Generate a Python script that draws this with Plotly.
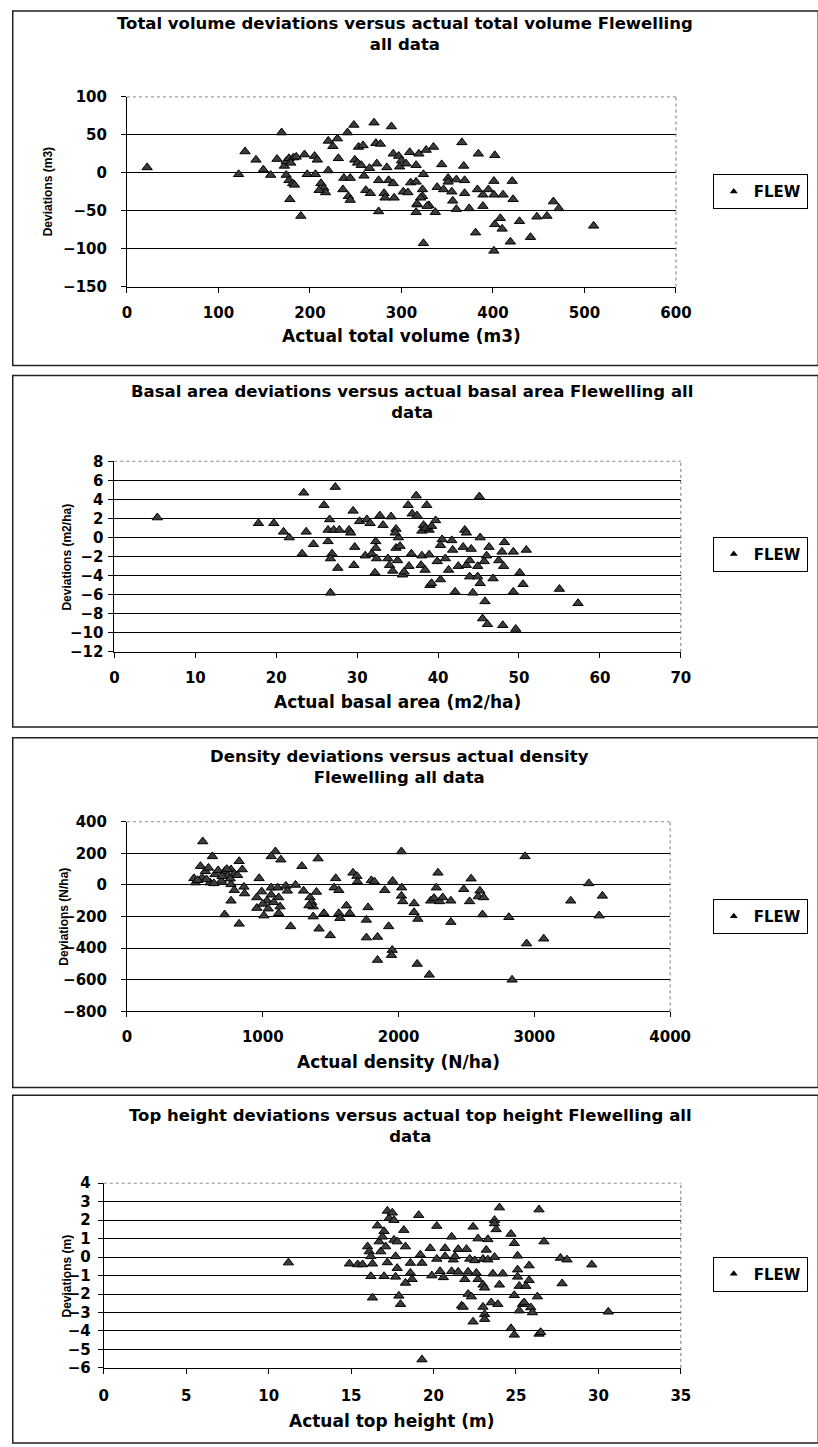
import plotly.graph_objects as go

W, H = 818, 1447

# ---------------- data ----------------
vol_x = [22,122,129,141,149,157,169,164,172,174,177,182,185,179,174,177,181,183,178,190,194,197,205,208,206,212,215,217,210,
         220,225,230,231,220,241,248,270,289,237,236,244,242,244,249,252,256,253,258,259,261,266,265,273,272,277,275,275,281,
         282,284,286,291,292,291,297,298,300,302,305,309,307,310,316,319,316,317,316,324,323,323,324,327,330,
         335,366,384,402,344,368,351,351,360,369,401,421,339,346,355,369,383,395,389,401,411,422,321,317,328,337,356,360,374,
         389,466,472,448,459,408,402,410,429,381,419,441,510,401]
vol_y = [7,-2,28,17,4,-3,53,18,9,15,19,20,21,13,-3,-10,-14,-16,-35,-57,24,-2,22,17,-2,-14,-20,-26,-23,
         42,35,45,19,3,53,63,66,61,-7,-22,-7,-31,-36,17,13,10,34,36,-4,-23,-27,6,12,39,38,-10,-51,-27,
         -33,7,-10,-14,-33,25,22,8,16,-25,12,27,-26,-13,-12,25,10,-42,-52,-2,-22,-31,-93,30,-43,
         34,40,25,23,11,9,-7,-12,-9,-10,-11,-11,-19,-22,-25,-27,-22,-22,-29,-29,-29,-35,-33,-41,-44,-52,-37,-48,-47,
         -44,-38,-47,-58,-57,-60,-68,-74,-64,-79,-91,-85,-70,-103]

ba_x = [5.3,17.8,19.7,20.9,21.6,23.4,23.7,23.2,24.6,25.9,27.3,26.6,26.4,27.1,27.8,26.4,26.9,26.7,27.6,26.7,29.0,29.2,29.5,
        29.7,29.6,30.3,31.2,31.6,31.0,31.8,32.3,32.3,32.4,32.2,32.8,33.2,34.2,34.8,35.1,34.8,33.8,34.0,34.4,35.0,35.6,35.8,
        36.4,36.3,36.8,37.3,37.4,38.6,38.2,38.0,36.7,38.0,37.9,38.4,39.0,
        45.1,39.7,38.9,43.3,43.5,45.2,40.5,40.3,41.7,41.8,43.1,44.1,46.3,48.2,47.9,49.3,50.9,38.9,39.9,40.9,41.3,42.5,43.5,
        43.9,44.9,45.7,46.0,47.5,48.1,43.9,44.9,45.2,46.8,50.1,50.5,40.3,39.2,42.1,44.3,49.3,55.0,57.3,45.8,45.5,46.1,48.0,
        49.6,38.5,39.2,35.3,34.7]
ba_y = [2.1,1.5,1.5,0.6,0.0,4.7,0.6,-1.7,-0.7,3.4,5.3,1.9,0.8,0.8,0.8,-0.4,-1.7,-2.2,-3.2,-5.8,0.8,0.5,2.8,
        -1.0,-2.9,1.7,1.9,1.5,-1.9,-1.7,-0.4,-1.1,-2.2,-3.7,2.3,1.3,2.2,0.9,0.0,-1.1,-2.2,-2.9,-3.5,-2.4,-3.9,-3.6,
        -3.0,3.4,2.5,4.4,2.3,3.4,1.3,0.7,-1.7,-1.9,-2.9,-3.4,-5.0,
        4.3,1.8,0.8,0.8,0.5,0.0,-0.2,-0.8,-0.3,-1.3,-1.0,-1.2,-1.0,-0.5,-1.5,-1.5,-1.3,-1.8,-2.5,-2.2,-3.4,-3.0,-2.9,
        -2.4,-3.0,-2.5,-1.9,-2.4,-3.0,-4.1,-4.1,-4.8,-4.3,-3.7,-4.9,-4.4,-4.8,-5.7,-5.8,-5.7,-5.4,-6.9,-6.7,-8.5,-9.1,-9.2,
        -9.6,1.0,1.2,-0.9,0.5]

den_x = [558,493,505,541,553,577,600,612,629,648,671,695,719,743,766,790,814,826,849,766,790,766,719,826,861,866,973,956,
         956,992,1008,1031,1062,1062,1093,1062,1133,1110,1117,1127,1117,1170,1181,1205,1241,1288,1300,1348,1360,1371,1407,
         1395,1371,1414,1450,1497,1537,1525,1560,1560,1568,1616,1640,1664,1693,1697,1775,1763,1763,1799,1822,1845,1845,1898,
         1927,1956,1953,1948,2021,2023,2021,2031,2114,2114,2142,2137,2226,2237,
         2931,2290,2534,2278,2480,2599,2587,2627,2261,2302,2325,2385,2523,2385,2618,2812,3268,3401,3501,3477,2943,3069,2836,
         520,585,640,700,735,760,1000,1040,1080,1340]
den_y = [275,42,15,119,46,87,108,15,181,67,92,25,87,62,98,71,62,150,98,4,-33,-100,-187,-246,-12,-54,42,-79,
         -146,-42,-194,-100,-62,-17,212,181,160,-17,-79,-137,-179,-6,-37,-262,0,119,-37,-79,-110,-137,167,
         -44,-200,-277,-179,-319,42,-17,-33,-179,-210,-131,-179,77,56,21,-142,-221,-333,29,21,-329,-475,-33,
         -262,25,-412,-444,212,-17,-69,-104,-117,-173,-215,-500,-569,-100,
         181,77,40,-17,-27,-37,-73,-79,-83,-104,-79,-100,-104,-235,-187,-204,-100,10,-69,-194,-371,-340,-600,
         30,35,10,55,100,40,-120,-150,-110,-130]

th_x = [11.2,14.9,15.4,15.7,16.0,16.1,16.2,16.3,16.2,16.3,16.6,16.7,16.8,17.0,17.2,17.3,17.5,17.6,17.0,16.9,17.1,17.2,
        17.6,17.8,17.7,17.8,17.7,17.9,18.0,18.2,18.3,18.6,18.6,18.7,18.3,19.1,19.2,19.3,19.3,19.8,19.9,
        24.0,26.4,23.7,23.7,20.2,22.4,23.8,24.7,21.1,22.7,23.3,24.9,26.7,20.7,21.5,22.0,23.2,20.2,20.7,21.2,21.3,22.2,
        22.5,23.0,23.3,23.7,25.1,27.7,28.1,29.6,25.8,20.4,20.6,21.1,21.5,21.9,22.1,22.6,22.7,23.0,23.1,23.6,24.2,24.0,
        25.1,25.1,25.2,25.6,25.8,24.9,26.3,27.8,22.1,22.3,21.7,21.8,23.0,23.1,23.1,22.4,23.5,23.9,25.2,25.4,25.5,25.9,
        26.0,30.6,24.7,24.9,26.4,26.5]
th_y = [-0.3,-0.36,-0.4,-0.4,0.57,0.3,0.04,-0.36,-1.04,-2.2,1.7,0.84,0.3,-1.04,2.5,2.1,2.4,2.0,1.4,1.1,0.57,-0.29,
        0.93,0.84,0.04,-0.6,-1.07,-2.1,-2.55,1.46,0.57,-0.32,-0.86,-1.2,-1.4,2.27,0.13,-0.32,-5.55,0.48,-1.0,
        2.68,2.57,2.0,1.82,1.68,1.64,1.5,1.25,1.1,1.0,0.96,0.75,0.84,0.48,0.43,0.43,0.39,-0.1,0.04,-0.14,0.04,-0.1,
        -0.18,-0.1,-0.14,0.0,0.07,-0.05,-0.14,-0.41,-0.46,-0.77,-1.1,-0.77,-0.8,-1.2,-0.8,-0.86,-1.2,-1.5,-1.66,-0.9,-0.9,-1.5,
        -0.68,-1.07,-1.57,-1.57,-1.25,-2.07,-2.14,-1.43,-2.0,-2.14,-2.64,-2.7,-2.7,-3.1,-3.36,-3.5,-2.46,-2.55,-2.9,-2.55,-2.46,-2.73,
        -3.0,-2.96,-3.86,-4.21,-4.16,-4.07]

series_name = "FLEW"

panels = [
    dict(x=vol_x, y=vol_y, xr=[0, 600], xt=list(range(0, 601, 100)), yr=[-150, 100], yt=list(range(-150, 101, 50)),
         title="Total volume deviations versus actual total volume Flewelling<br>all data",
         xtitle="Actual total volume (m3)", ytitle="Deviations (m3)"),
    dict(x=ba_x, y=ba_y, xr=[0, 70], xt=list(range(0, 71, 10)), yr=[-12, 8], yt=list(range(-12, 9, 2)),
         title="Basal area deviations versus actual basal area Flewelling all<br>data",
         xtitle="Actual basal area (m2/ha)", ytitle="Deviations (m2/ha)"),
    dict(x=den_x, y=den_y, xr=[0, 4000], xt=list(range(0, 4001, 1000)), yr=[-800, 400], yt=list(range(-800, 401, 200)),
         title="Density deviations versus actual density<br>Flewelling all data",
         xtitle="Actual density (N/ha)", ytitle="Deviations (N/ha)"),
    dict(x=th_x, y=th_y, xr=[0, 35], xt=list(range(0, 36, 5)), yr=[-6, 4], yt=list(range(-6, 5, 1)),
         title="Top height deviations versus actual top height Flewelling all<br>data",
         xtitle="Actual top height (m)", ytitle="Deviations (m)"),
]

# ---------------- layout geometry (pixels) ----------------
geo = [
    dict(plot=(126, 693, 89, 281), box=(2, 361), t=(413, 25), xt_y=331, yt_x=44, leg=185, so=11, xso=7),
    dict(plot=(113, 698, 458, 651), box=(371, 727), t=(420, 398), xt_y=702, yt_x=64, leg=552, so=2, xso=7),
    dict(plot=(126, 687, 823, 1015), box=(738, 1092), t=(407, 768), xt_y=1066, yt_x=60, leg=919, so=11, xso=7),
    dict(plot=(102, 698, 1189, 1376), box=(1100, 1452), t=(419, 1131), xt_y=1430, yt_x=64, leg=1281, so=4, xso=9),
]

def px(x):
    return x / W

def py(y):
    return 1 - y / H

BOLD = "DejaVu Sans"
fig = go.Figure()
annotations = []
shapes = []
layout = {}

for i, (p, g) in enumerate(zip(panels, geo)):
    n = "" if i == 0 else str(i + 1)
    xa, ya = "x" + n, "y" + n
    leg = "legend" + n
    fig.add_trace(go.Scatter(x=p["x"], y=p["y"], mode="markers", xaxis=xa, yaxis=ya, showlegend=False,
                             marker=dict(symbol="triangle-up", size=9, color="#3c3c3c",
                                         line=dict(color="black", width=1))))
    fig.add_trace(go.Scatter(x=[None], y=[None], mode="markers", xaxis=xa, yaxis=ya, name=series_name,
                             legend=leg, showlegend=True,
                             marker=dict(symbol="triangle-up", size=7, color="black")))
    l, r, t, b = g["plot"]
    layout["xaxis" + n] = dict(domain=[px(l), px(r)], range=p["xr"], tickvals=p["xt"], anchor=ya,
                               showgrid=False, zeroline=False, showline=True, linecolor="black", linewidth=1,
                               ticks="outside", ticklen=5, tickcolor="black",
                               tickfont=dict(family=BOLD, size=15, color="black", weight="bold"),
                               ticklabelstandoff=g["xso"], fixedrange=True)
    layout["yaxis" + n] = dict(domain=[py(b), py(t)], range=p["yr"], tickvals=p["yt"], anchor=xa,
                               showgrid=True, gridcolor="black", gridwidth=1, zeroline=False,
                               showline=True, linecolor="black", linewidth=1,
                               ticks="outside", ticklen=5, tickcolor="black",
                               tickfont=dict(family=BOLD, size=15, color="black", weight="bold"),
                               ticklabelstandoff=g["so"], fixedrange=True)
    layout[leg] = dict(x=px(731), y=py(g["leg"]), xanchor="left", yanchor="middle", bgcolor="white",
                       bordercolor="black", borderwidth=1, itemwidth=30,
                       font=dict(family=BOLD, size=15, color="black", weight="bold"))
    # title (two lines in one text)
    tx, ty = g["t"]
    annotations.append(dict(text=p["title"], x=px(tx), y=py(ty), xref="paper", yref="paper", showarrow=False,
                            xanchor="center", yanchor="middle", align="center",
                            font=dict(family=BOLD, size=16.5, color="black", weight="bold")))
    annotations.append(dict(text=p["xtitle"], x=px((l + r) / 2), y=py(g["xt_y"]), xref="paper", yref="paper",
                            showarrow=False, xanchor="center", yanchor="middle",
                            font=dict(family=BOLD, size=17, color="black", weight="bold")))
    annotations.append(dict(text=p["ytitle"], x=px(g["yt_x"]), y=py((t + b) / 2), xref="paper", yref="paper",
                            showarrow=False, xanchor="center", yanchor="middle", textangle=-90,
                            font=dict(family="Liberation Sans", size=12, color="black", weight="bold")))
    # outer chart box
    by0, by1 = g["box"]
    shapes.append(dict(type="rect", xref="paper", yref="paper", x0=px(8), x1=px(840), y0=py(by1), y1=py(by0),
                       line=dict(color="#222", width=1.5), layer="below"))
    # plot area border (top and right gray)
    shapes.append(dict(type="line", xref=xa + " domain", yref=ya + " domain", x0=0, x1=1, y0=1, y1=1,
                       line=dict(color="white", width=2), layer="above"))
    shapes.append(dict(type="line", xref=xa + " domain", yref=ya + " domain", x0=0, x1=1, y0=1, y1=1,
                       line=dict(color="#888", width=1, dash="dot"), layer="above"))
    shapes.append(dict(type="line", xref=xa + " domain", yref=ya + " domain", x0=1, x1=1, y0=0, y1=1,
                       line=dict(color="#777", width=1, dash="dot"), layer="above"))

fig.update_layout(width=W, height=H, margin=dict(l=0, r=0, t=0, b=0), paper_bgcolor="white",
                  plot_bgcolor="white", annotations=annotations, shapes=shapes, **layout)

fig.write_html("out.html")
